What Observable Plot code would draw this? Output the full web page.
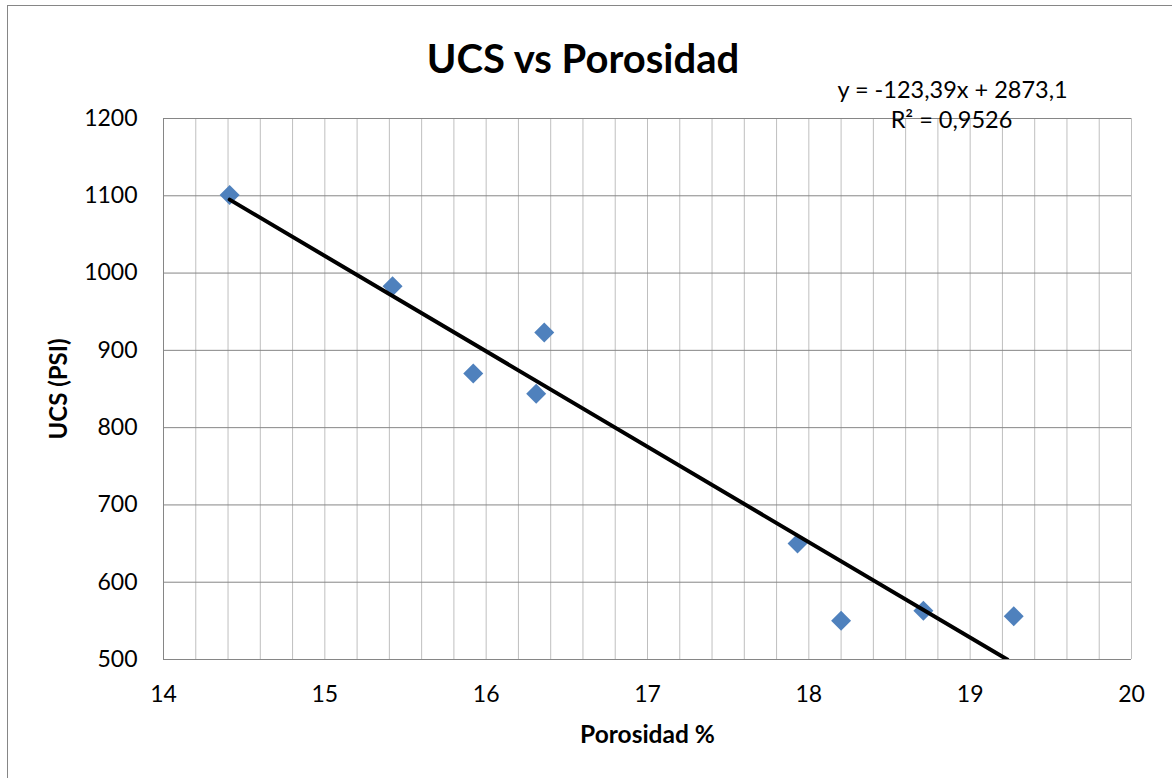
<!DOCTYPE html>
<html>
<head>
<meta charset="utf-8">
<script src="https://cdn.jsdelivr.net/npm/d3@7"></script>
<script src="https://cdn.jsdelivr.net/npm/@observablehq/plot@0.6"></script>
<style>
  html, body { margin: 0; padding: 0; background: #ffffff; }
  #wrap { position: relative; width: 1172px; height: 778px; overflow: hidden; }
  #border { position: absolute; left: 7px; top: 5px; width: 1200px; height: 800px; border: 1px solid #868686; pointer-events: none; }
  #chart { position: absolute; left: 0; top: 0; }
  #ylabel { position: absolute; left: -42px; top: 374px; width: 200px; height: 30px; line-height: 30px;
            text-align: center; font-family: Lato, 'Open Sans', sans-serif; font-weight: bold; font-size: 24px;
            transform: rotate(-90deg); transform-origin: 100px 15px; color: #000; }
</style>
</head>
<body>
<div id="wrap"><div id="chart"></div><div id="ylabel"></div><div id="border"></div></div>
<script>
// Data
const porosidad = [14.41, 15.42, 15.92, 16.36, 16.31, 17.93, 18.20, 18.71, 19.27];
const ucs = [1101, 983, 870, 923, 844, 650, 550, 563, 556];

// Trendline endpoints as drawn (clipped at y = 500)
const trendX = [14.41, 19.23];
const trendY = [1095, 500];

// Axis ticks
const xTicks = [14, 15, 16, 17, 18, 19, 20];
const yTicks = [500, 600, 700, 800, 900, 1000, 1100, 1200];
const xGrid = [14.2, 14.4, 14.6, 14.8, 15, 15.2, 15.4, 15.6, 15.8, 16, 16.2, 16.4, 16.6, 16.8, 17,
               17.2, 17.4, 17.6, 17.8, 18, 18.2, 18.4, 18.6, 18.8, 19, 19.2, 19.4, 19.6, 19.8, 20];

// Texts
const title = "UCS vs Porosidad";
const xLabel = "Porosidad %";
const yLabel = "UCS (PSI)";
const equation = "y = -123,39x + 2873,1";
const r2 = "R² = 0,9526";

const points = porosidad.map((x, i) => ({x, y: ucs[i]}));
const trend = trendX.map((x, i) => ({x, y: trendY[i]}));

const font = "Lato, 'Open Sans', sans-serif";

const chart = Plot.plot({
  width: 1172,
  height: 778,
  marginLeft: 163,
  marginRight: 41,
  marginTop: 118,
  marginBottom: 119,
  style: {fontFamily: font, fontSize: "23px", color: "#000", background: "transparent"},
  x: {domain: [14, 20]},
  y: {domain: [500, 1200]},
  marks: [
    Plot.gridX(xGrid, {stroke: "#bfbfbf", strokeOpacity: 1, strokeWidth: 1}),
    Plot.gridY(yTicks, {stroke: "#868686", strokeOpacity: 1, strokeWidth: 1}),
    Plot.ruleX([14], {stroke: "#868686", strokeWidth: 1}),
    Plot.ruleY([500], {stroke: "#868686", strokeWidth: 1}),
    Plot.axisX({ticks: xTicks, tickSize: 0, tickPadding: 26, label: null, fontSize: 23, tickFormat: d => String(d)}),
    Plot.axisY({ticks: yTicks, tickSize: 0, tickPadding: 26, label: null, fontSize: 23, tickFormat: d => String(d)}),
    Plot.dot(points, {x: "x", y: "y", symbol: "diamond2", r: 9, fill: "#4f81bd", stroke: "none"}),
    Plot.line(trend, {x: "x", y: "y", stroke: "#000", strokeWidth: 4, clip: true}),
    Plot.text([title], {frameAnchor: "top", dx: -64.5, dy: -46, lineAnchor: "bottom", fontSize: 40, fontWeight: "bold", fill: "#000"}),
    Plot.text([equation], {frameAnchor: "top", dx: 305, dy: -21, lineAnchor: "bottom", fontSize: 23.5, fill: "#000"}),
    Plot.text([r2], {frameAnchor: "top", dx: 304, dy: 9, lineAnchor: "bottom", fontSize: 23.5, fill: "#000"}),
    Plot.text([xLabel], {frameAnchor: "bottom", dy: 83, lineAnchor: "bottom", fontSize: 24.5, fontWeight: "bold", fill: "#000"})
  ]
});
document.getElementById("chart").appendChild(chart);
document.getElementById("ylabel").textContent = yLabel;
</script>
</body>
</html>
